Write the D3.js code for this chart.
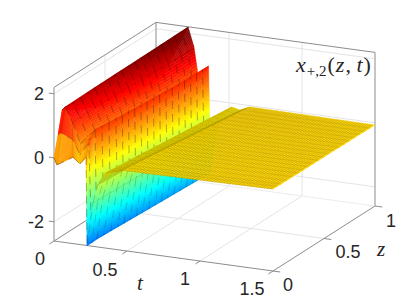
<!DOCTYPE html>
<html>
<head>
<meta charset="utf-8">
<script src="https://d3js.org/d3.v7.min.js"></script>
<style>
html, body { margin: 0; padding: 0; background: #fff; }
svg { display: block; }
.tick-label { font-family: "Liberation Sans", Arial, sans-serif; font-size: 18px; fill: #262626; }
.math { font-family: "Liberation Serif", serif; fill: #262626; }
</style>
</head>
<body>
<div id="chart"></div>
<script>
// ticks
const tTicks = [0, 0.5, 1, 1.5];
const zTicks = [0, 0.5, 1];
const valueTicks = [-2, 0, 2];
const tTickLabels = ['0', '0.5', '1', '1.5'];
const zTickLabels = ['0', '0.5', '1'];
const valueTickLabels = ['-2', '0', '2'];

// surface: one row per z, one entry per feature of the wave
// (edge, crest 1, descent, trough, crest 2, valley, rise x3, shoulder, dip, bump, end)
const zRows = [0, 0.04, 0.08, 0.25, 0.5, 0.75, 1];
const tRows = [
    [0, 0.02, 0.13, 0.178, 0.22, 0.226, 0.267, 0.30, 0.35, 0.405, 0.47, 1.5],
    [0, 0.02, 0.10, 0.15, 0.21, 0.232, 0.273, 0.306, 0.357, 0.412, 0.477, 1.5],
    [0, 0.02, 0.07, 0.125, 0.225, 0.238, 0.279, 0.313, 0.364, 0.419, 0.484, 1.5],
    [0, 0.057, 0.105, 0.18, 0.25, 0.262, 0.303, 0.338, 0.392, 0.447, 0.512, 1.5],
    [0, 0.111, 0.16, 0.225, 0.288, 0.30, 0.341, 0.375, 0.435, 0.49, 0.555, 1.5],
    [0, 0.165, 0.215, 0.265, 0.328, 0.34, 0.38, 0.413, 0.478, 0.533, 0.598, 1.5],
    [0, 0.22, 0.26, 0.295, 0.36, 0.376, 0.416, 0.45, 0.52, 0.575, 0.644, 1.5]
];
const valueRows = [
    [0, -0.21, 0.1, -0.08, 0.16, -2.6, -1.25, -0.66, -0.26, -0.2, -0.1, -0.04],
    [0.63, 0.7, 0.55, 0.1, 0.5, -2.58, -1.24, -0.65, -0.255, -0.2, -0.1, -0.04],
    [1.33, 1.43, 1.0, 0.35, 0.85, -2.55, -1.22, -0.64, -0.25, -0.2, -0.1, -0.045],
    [1.0, 1.58, 1.15, 0.4, 0.86, -2.5, -1.17, -0.6, -0.22, -0.2, -0.09, -0.05],
    [0.6, 1.78, 1.3, 0.45, 0.91, -2.42, -1.1, -0.55, -0.19, -0.19, -0.08, -0.055],
    [0.3, 1.98, 1.45, 0.5, 0.97, -2.33, -1.02, -0.5, -0.15, -0.185, -0.06, -0.06],
    [0.1, 2.19, 1.6, 0.55, 1.06, -2.25, -0.95, -0.45, -0.12, -0.18, -0.04, -0.07]
];

let width = 415;
let height = 305;
let originX = 54;
let originY = 241;

let tToX = d3.scaleLinear().domain([0, 1.5]).range([0, 219]);
let tToY = d3.scaleLinear().domain([0, 1.5]).range([0, 30]);
let zToX = d3.scaleLinear().domain([0, 1]).range([0, 102]);
let zToY = d3.scaleLinear().domain([0, 1]).range([0, -65]);
let valueToY = d3.scaleLinear().domain([-2.6, 2.2]).range([0, -153.6]);

let jetPositions = [0, 0.125, 0.375, 0.625, 0.875, 1];
let jetColors = ['#00008f', '#0000ff', '#00ffff', '#ffff00', '#ff0000', '#800000'];
let colorPosition = d3.scaleLinear().domain([0, 1]).range([-4.05, 1.95]);
let color = d3.scaleLinear()
    .domain(jetPositions.map(p => colorPosition(p)))
    .range(jetColors)
    .clamp(true);

function project(t, z, v) {
    return [
        originX + tToX(t) + zToX(z),
        originY + tToY(t) + zToY(z) + valueToY(v)
    ];
}

let svg = d3.select('#chart').append('svg')
    .attr('width', width)
    .attr('height', height);

let line = d3.line();

function drawLine(parent, points, stroke, strokeWidth) {
    return parent.append('path')
        .attr('d', line(points))
        .attr('fill', 'none')
        .attr('stroke', stroke)
        .attr('stroke-width', strokeWidth);
}

// grid on the walls and floor
let grid = svg.append('g');
let gridColor = '#e4e4e4';
let valueBottom = -2.6;
let valueTop = 2.2;
valueTicks.forEach(v => {
    drawLine(grid, [project(0, 0, v), project(0, 1, v), project(1.5, 1, v)], gridColor, 1);
});
tTicks.slice(1, 3).forEach(t => {
    drawLine(grid, [project(t, 0, valueBottom), project(t, 1, valueBottom), project(t, 1, valueTop)], gridColor, 1);
});
zTicks.slice(1, 2).forEach(z => {
    drawLine(grid, [project(1.5, z, valueBottom), project(0, z, valueBottom), project(0, z, valueTop)], gridColor, 1);
});

// box
let box = svg.append('g');
let boxColor = '#8c8c8c';
drawLine(box, [project(0, 0, valueBottom), project(0, 0, valueTop), project(0, 1, valueTop), project(1.5, 1, valueTop), project(1.5, 1, valueBottom)], boxColor, 1);
drawLine(box, [project(0, 1, valueBottom), project(0, 1, valueTop)], boxColor, 1);
drawLine(box, [project(0, 0, valueBottom), project(0, 1, valueBottom), project(1.5, 1, valueBottom)], '#ececec', 1);
drawLine(box, [project(0, 0, valueBottom), project(1.5, 0, valueBottom), project(1.5, 1, valueBottom)], boxColor, 1);
drawLine(box, [project(0, 0, valueBottom), project(0, 0.62, valueBottom)], boxColor, 1);

// ticks
tTicks.forEach(t => drawLine(box, [project(t, 0, valueBottom), project(t, -0.045, valueBottom)], boxColor, 1));
zTicks.forEach(z => drawLine(box, [project(1.5, z, valueBottom), project(1.55, z, valueBottom)], boxColor, 1));
valueTicks.forEach(v => drawLine(box, [project(0, 0, v), project(-0.035, 0, v)], boxColor, 1));

// surface, painted from the far corner (small t, large z) to the near one
let surface = svg.append('g');
let rowSteps = [1, 1, 3, 5, 5, 5];
let colSteps = [12, 16, 12, 14, 44, 14, 12, 8, 6, 6, 52];

function meshPoint(col, row, u, w) {
    let t = (1 - u) * ((1 - w) * tRows[row][col] + w * tRows[row + 1][col]) + u * ((1 - w) * tRows[row][col + 1] + w * tRows[row + 1][col + 1]);
    let v = (1 - u) * ((1 - w) * valueRows[row][col] + w * valueRows[row + 1][col]) + u * ((1 - w) * valueRows[row][col + 1] + w * valueRows[row + 1][col + 1]);
    let z = (1 - w) * zRows[row] + w * zRows[row + 1];
    return { t: t, z: z, v: v };
}

function toScreen(p) {
    return project(p.t, p.z, p.v);
}

let meshCounter = 0;
for (let col = 0; col < colSteps.length; col++) {
    let isFlat = col >= 7;
    let isRise = col >= 5 && col < 7;
    let columnLines = [];
    for (let row = rowSteps.length - 1; row >= 0; row--) {
        for (let s = rowSteps[row] - 1; s >= 0; s--) {
            let w0 = s / rowSteps[row];
            let w1 = (s + 1) / rowSteps[row];
            let frontLine = [];
            for (let k = 0; k < colSteps[col]; k++) {
                let u0 = k / colSteps[col];
                let u1 = (k + 1) / colSteps[col];
                let a = meshPoint(col, row, u0, w0);
                let b = meshPoint(col, row, u1, w0);
                let c = meshPoint(col, row, u1, w1);
                let d = meshPoint(col, row, u0, w1);
                let fill = color((a.v + b.v + c.v + d.v) / 4);
                surface.append('polygon')
                    .attr('points', [a, b, c, d].map(toScreen).map(p => p.join(',')).join(' '))
                    .attr('fill', fill)
                    .attr('stroke', fill)
                    .attr('stroke-width', 0.4);
                if (k === 0) frontLine.push(toScreen(a));
                frontLine.push(toScreen(b));
                if (isFlat) {
                    drawLine(surface, [toScreen(a), toScreen(d)], '#000', 0.5).attr('stroke-opacity', 0.36);
                }
            }
            columnLines.push(frontLine);
        }
    }
    // constant z mesh lines only show as broken dashes on the steep parts
    columnLines.forEach(frontLine => {
        meshCounter++;
        let mesh = drawLine(surface, frontLine, '#000', isFlat ? 0.4 : 0.9)
            .attr('stroke-opacity', isFlat ? 0.3 : (isRise ? 0.2 : 0.34));
        if (!isFlat) {
            mesh.attr('stroke-dasharray', '8 5').attr('stroke-dashoffset', (meshCounter % 2) * 6);
        }
    });
    // constant t line along the wave
    if (!isFlat && col > 0) {
        let along = [];
        zRows.forEach((z, i) => along.push(project(tRows[i][col], z, valueRows[i][col])));
        drawLine(surface, along, '#000', 0.6).attr('stroke-opacity', 0.15);
    }
}

// tick labels
let labels = svg.append('g');
let valueLabelY = d3.scaleOrdinal().domain(valueTicks).range([228, 164, 100]);
labels.selectAll('.value-label').data(valueTicks).enter().append('text')
    .attr('class', 'tick-label value-label')
    .attr('x', 44)
    .attr('y', d => valueLabelY(d))
    .attr('text-anchor', 'end')
    .text((d, i) => valueTickLabels[i]);

let tLabelX = d3.scaleOrdinal().domain(tTicks).range([40, 105, 185, 252]);
let tLabelY = d3.scaleOrdinal().domain(tTicks).range([265, 276, 285, 295]);
labels.selectAll('.t-label').data(tTicks).enter().append('text')
    .attr('class', 'tick-label t-label')
    .attr('x', d => tLabelX(d))
    .attr('y', d => tLabelY(d))
    .attr('text-anchor', 'middle')
    .text((d, i) => tTickLabels[i]);

let zLabelX = d3.scaleOrdinal().domain(zTicks).range([288, 348, 391]);
let zLabelY = d3.scaleOrdinal().domain(zTicks).range([291, 258, 227]);
labels.selectAll('.z-label').data(zTicks).enter().append('text')
    .attr('class', 'tick-label z-label')
    .attr('x', d => zLabelX(d))
    .attr('y', d => zLabelY(d))
    .attr('text-anchor', 'middle')
    .text((d, i) => zTickLabels[i]);

labels.append('text').attr('class', 'math').attr('x', 140).attr('y', 290)
    .attr('text-anchor', 'middle').attr('font-size', 21).attr('font-style', 'italic').text('t');
labels.append('text').attr('class', 'math').attr('x', 381).attr('y', 256)
    .attr('text-anchor', 'middle').attr('font-size', 21).attr('font-style', 'italic').text('z');

let title = labels.append('text').attr('class', 'math').attr('x', 296).attr('y', 72).attr('font-size', 22);
title.append('tspan').attr('font-style', 'italic').text('x');
title.append('tspan').attr('font-size', 15).attr('dy', 4).attr('dx', 1).text('+,2');
title.append('tspan').attr('dy', -4).attr('dx', 1).text('(');
title.append('tspan').attr('font-style', 'italic').attr('dx', 1).text('z');
title.append('tspan').attr('dx', 1).text(', ');
title.append('tspan').attr('font-style', 'italic').text('t');
title.append('tspan').attr('dx', 1).text(')');
</script>
</body>
</html>
